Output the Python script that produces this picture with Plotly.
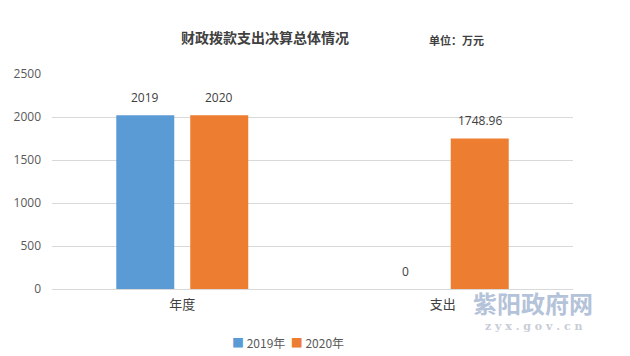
import plotly.graph_objects as go

categories = ["年度", "支出"]
series_names = ["2019年", "2020年"]
values_2019 = [2019, 0]
values_2020 = [2020, 1748.96]
labels_2019 = ["2019", "0"]
labels_2020 = ["2020", "1748.96"]
colors = ["#5b9bd5", "#ed7d31"]
y_ticks = [0, 500, 1000, 1500, 2000, 2500]

FONT = "Open Sans, Noto Sans CJK SC, sans-serif"
CJK = "Noto Sans CJK SC, sans-serif"

# the page has an 8px body margin, so the figure is drawn slightly smaller
OFF = 8
W, H = 630 - OFF, 356 - OFF
L, R, T, B = 52 - OFF, 57, 74 - OFF, 67
pw, ph = W - L - R, H - T - B

def px_x(x):
    return (x - OFF - L) / pw

def px_y(y):
    return (H - B - (y - OFF)) / ph

fig = go.Figure()
series = [(series_names[0], values_2019, labels_2019, colors[0], -37),
          (series_names[1], values_2020, labels_2020, colors[1], 37)]
annotations = []
for name, vals, labs, col, shift in series:
    fig.add_trace(go.Bar(
        x=categories, y=vals, name=name, marker=dict(color=col, line=dict(width=0)),
        showlegend=False, hoverinfo="x+y+name",
    ))
    for c, v, lab in zip(categories, vals, labs):
        annotations.append(dict(
            x=c, y=v, xref="x", yref="y", text=lab, showarrow=False,
            xshift=shift, yshift=18, xanchor="center", yanchor="middle",
            font=dict(family=FONT, size=12, color="#404040"),
        ))

legend_text = "  ".join(
    f"<span style='color:{c}'>■</span> {n}" for n, c in zip(series_names, colors)
)

annotations += [
    dict(text="<b>财政拨款支出决算总体情况</b>", x=px_x(265), y=px_y(37), xref="paper", yref="paper",
         showarrow=False, xanchor="center", yanchor="middle",
         font=dict(family=CJK, size=14, color="#404040")),
    dict(text="<b>单位：万元</b>", x=px_x(427), y=px_y(40), xref="paper", yref="paper",
         showarrow=False, xanchor="left", yanchor="middle",
         font=dict(family=CJK, size=11, color="#404040")),
    dict(text=legend_text, x=px_x(230), y=px_y(342), xref="paper", yref="paper",
         showarrow=False, xanchor="left", yanchor="middle",
         font=dict(family=CJK, size=12, color="#595959")),
    dict(text="<b>紫阳政府网</b>", x=px_x(533), y=px_y(302), xref="paper", yref="paper",
         showarrow=False, xanchor="center", yanchor="middle",
         font=dict(family=CJK, size=24, color="#b4c3d9")),
    dict(text="<b>z y x . g o v . c n</b>", x=px_x(533), y=px_y(326), xref="paper", yref="paper",
         showarrow=False, xanchor="center", yanchor="middle",
         font=dict(family="DejaVu Serif, serif", size=11, color="#c8cdd6")),
]

fig.update_layout(
    width=W, height=H,
    margin=dict(l=L, r=R, t=T, b=B, autoexpand=False),
    paper_bgcolor="white", plot_bgcolor="white",
    barmode="group", bargap=0.432, bargroupgap=0.216,
    showlegend=False,
    xaxis=dict(showgrid=False, showline=False, ticks="", automargin=False,
               ticklabelstandoff=6,
               tickfont=dict(family=CJK, size=13, color="#404040")),
    yaxis=dict(range=[0, 2500], tickvals=y_ticks, showgrid=True, gridcolor="#d9d9d9",
               gridwidth=1, zeroline=True, zerolinecolor="#d9d9d9", zerolinewidth=1,
               showline=False, ticks="", automargin=False, ticklabelstandoff=10,
               tickfont=dict(family=FONT, size=12, color="#595959")),
    annotations=annotations,
)

fig.write_html("out.html")
